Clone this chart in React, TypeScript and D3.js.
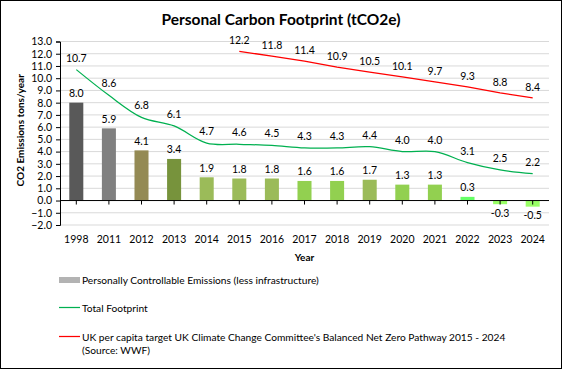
import { useEffect, useRef } from 'react';
import * as d3 from 'd3';

const years = ['1998', '2011', '2012', '2013', '2014', '2015', '2016', '2017', '2018', '2019', '2020', '2021', '2022', '2023', '2024'];
const controllable = [8.0, 5.9, 4.1, 3.4, 1.9, 1.8, 1.8, 1.6, 1.6, 1.7, 1.3, 1.3, 0.3, -0.3, -0.5];
const totalFootprint = [10.7, 8.6, 6.8, 6.1, 4.7, 4.6, 4.5, 4.3, 4.3, 4.4, 4.0, 4.0, 3.1, 2.5, 2.2];
const targetYears = ['2015', '2016', '2017', '2018', '2019', '2020', '2021', '2022', '2023', '2024'];
const targetValues = [12.2, 11.8, 11.4, 10.9, 10.5, 10.1, 9.7, 9.3, 8.8, 8.4];
const yTicks = d3.range(-2, 14, 1);

// per-bar fill, same order as years
const barColors = ['#595959', '#808080', '#948A54', '#77933C', '#9BBB59', '#9BBB59', '#9BBB59', '#92D050', '#92D050', '#9BBB59', '#92D050', '#92D050', '#66FF66', '#99FF66', '#99FF66'];

const FONT = 'Lato, "Noto Sans", sans-serif';

const App = () => {
  const ref = useRef<SVGSVGElement | null>(null);

  useEffect(() => {
    const width = 562;
    const height = 369;
    const margin = { top: 41.5, right: 13, bottom: 144, left: 60 };

    const svg = d3.select(ref.current);
    svg.selectAll('*').remove();

    svg.append('rect')
      .attr('x', 0.5).attr('y', 0.5)
      .attr('width', width - 1).attr('height', height - 1)
      .attr('fill', '#fff').attr('stroke', '#000');

    const x = d3.scaleBand()
      .domain(years)
      .range([margin.left, width - margin.right])
      .paddingInner(0.57)
      .paddingOuter(0.285);

    const y = d3.scaleLinear()
      .domain([-2, 13])
      .range([height - margin.bottom, margin.top]);

    const cx = (yr: string) => (x(yr) as number) + x.bandwidth() / 2;
    const x0 = margin.left;
    const x1 = width - margin.right;

    // title
    svg.append('text')
      .attr('x', 281).attr('y', 25)
      .attr('text-anchor', 'middle')
      .style('font-family', FONT).style('font-weight', 'bold').style('font-size', '15.5px')
      .text('Personal Carbon Footprint (tCO2e)');

    // gridlines
    svg.append('g').selectAll('line').data(yTicks).join('line')
      .attr('x1', x0).attr('x2', x1)
      .attr('y1', (d) => y(d)).attr('y2', (d) => y(d))
      .attr('stroke', '#D9D9D9').attr('stroke-width', 1);

    // y axis
    const yAxis = svg.append('g')
      .attr('transform', `translate(${x0},0)`)
      .call(d3.axisLeft(y).tickValues(yTicks).tickFormat(d3.format('.1f')).tickSize(4).tickPadding(4));
    yAxis.select('.domain').attr('stroke', '#000');
    yAxis.selectAll('line').attr('stroke', '#000');
    yAxis.selectAll('text')
      .style('font-family', FONT).style('font-size', '10.5px').attr('fill', '#000');

    // y axis title
    svg.append('text')
      .attr('transform', `translate(24,${(y(13) + y(-2)) / 2 - 3}) rotate(-90)`)
      .attr('text-anchor', 'middle')
      .style('font-family', FONT).style('font-weight', 'bold').style('font-size', '10px')
      .text('CO2 Emissions tons/year');

    // bars
    svg.append('g').selectAll('rect').data(controllable).join('rect')
      .attr('x', (_, i) => x(years[i]) as number)
      .attr('width', x.bandwidth())
      .attr('y', (d) => y(Math.max(0, d)))
      .attr('height', (d) => Math.abs(y(d) - y(0)))
      .attr('fill', (_, i) => barColors[i]);

    // x axis along zero
    svg.append('line')
      .attr('x1', x0).attr('x2', x1)
      .attr('y1', y(0)).attr('y2', y(0))
      .attr('stroke', '#000');
    svg.append('g').selectAll('line').data(years).join('line')
      .attr('x1', (d) => cx(d)).attr('x2', (d) => cx(d))
      .attr('y1', y(0)).attr('y2', y(0) + 4)
      .attr('stroke', '#000');

    // x labels
    svg.append('g').selectAll('text').data(years).join('text')
      .attr('x', (d) => cx(d)).attr('y', 243)
      .attr('text-anchor', 'middle')
      .style('font-family', FONT).style('font-size', '10.5px')
      .text((d) => d);

    svg.append('text')
      .attr('x', (x0 + x1) / 2).attr('y', 261)
      .attr('text-anchor', 'middle')
      .style('font-family', FONT).style('font-weight', 'bold').style('font-size', '10px')
      .text('Year');

    // bar labels
    svg.append('g').selectAll('text').data(controllable).join('text')
      .attr('x', (_, i) => cx(years[i]))
      .attr('y', (d) => (d >= 0 ? y(d) - 5.5 : y(d) + 12.5))
      .attr('text-anchor', 'middle')
      .style('font-family', FONT).style('font-size', '10.5px')
      .text((d) => d.toFixed(1));

    // total footprint line
    const line = d3.line<number>()
      .x((_, i) => cx(years[i]))
      .y((d) => y(d))
      .curve(d3.curveCatmullRom.alpha(0.5));
    svg.append('path')
      .attr('d', line(totalFootprint))
      .attr('fill', 'none').attr('stroke', '#00B050').attr('stroke-width', 1.25);

    svg.append('g').selectAll('text').data(totalFootprint).join('text')
      .attr('x', (_, i) => cx(years[i]))
      .attr('y', (d) => y(d) - 8)
      .attr('text-anchor', 'middle')
      .style('font-family', FONT).style('font-size', '10.5px')
      .text((d) => d.toFixed(1));

    // target line
    const tLine = d3.line<number>()
      .x((_, i) => cx(targetYears[i]))
      .y((d) => y(d));
    svg.append('path')
      .attr('d', tLine(targetValues))
      .attr('fill', 'none').attr('stroke', '#FF0000').attr('stroke-width', 1.25);

    svg.append('g').selectAll('text').data(targetValues).join('text')
      .attr('x', (_, i) => cx(targetYears[i]))
      .attr('y', (d) => y(d) - 7)
      .attr('text-anchor', 'middle')
      .style('font-family', FONT).style('font-size', '10.5px')
      .text((d) => d.toFixed(1));

    // legend
    const lg = svg.append('g').style('font-family', FONT).style('font-size', '10.2px');
    lg.append('rect').attr('x', 59).attr('y', 277).attr('width', 21).attr('height', 6).attr('fill', '#B3B3B3');
    lg.append('text').attr('x', 82).attr('y', 283.5).text('Personally Controllable Emissions (less infrastructure)');
    lg.append('line').attr('x1', 59).attr('x2', 80).attr('y1', 307.5).attr('y2', 307.5).attr('stroke', '#00B050').attr('stroke-width', 1.25);
    lg.append('text').attr('x', 82).attr('y', 311.5).text('Total Footprint');
    lg.append('line').attr('x1', 59).attr('x2', 80).attr('y1', 336.5).attr('y2', 336.5).attr('stroke', '#FF0000').attr('stroke-width', 1.25);
    lg.append('text').attr('x', 82).attr('y', 340.5)
      .text("UK per capita target UK Climate Change Committee's Balanced Net Zero Pathway 2015 - 2024");
    lg.append('text').attr('x', 82).attr('y', 354).text('(Source: WWF)');
  }, []);

  return (
    <svg
      ref={ref}
      width={562}
      height={369}
      style={{ position: 'absolute', left: 0, top: 0, background: '#fff' }}
    />
  );
};

export default App;
